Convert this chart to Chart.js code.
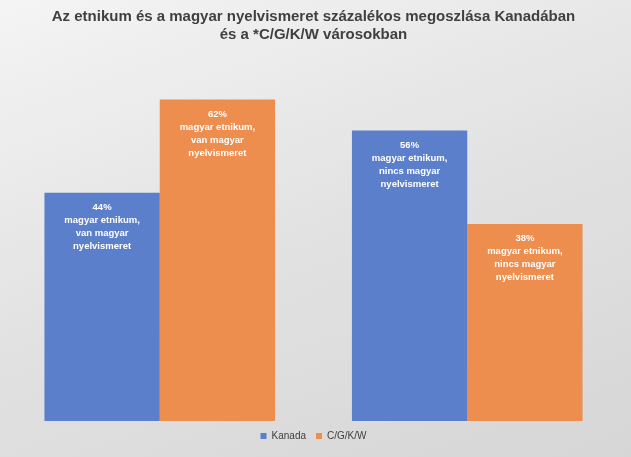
<!DOCTYPE html>
<html>
<head>
<meta charset="utf-8">
<script src="https://cdn.jsdelivr.net/npm/chart.js@4"></script>
<style>
  html, body { margin: 0; padding: 0; }
  body { width: 631px; height: 457px; background: linear-gradient(160deg, #f4f4f4 0%, #e2e2e2 50%, #d6d6d6 100%); }
  #wrap { width: 631px; height: 457px; }
</style>
</head>
<body>
<div id="wrap"><canvas id="bars"></canvas></div>
<script>
var categories = ['magyar etnikum, van magyar nyelvismeret', 'magyar etnikum, nincs magyar nyelvismeret'];
var kanada = [44, 56];
var cgkw = [62, 38];
var kanadaLabels = [['44%', 'magyar etnikum,', 'van magyar', 'nyelvismeret'], ['56%', 'magyar etnikum,', 'nincs magyar', 'nyelvismeret']];
var cgkwLabels = [['62%', 'magyar etnikum,', 'van magyar', 'nyelvismeret'], ['38%', 'magyar etnikum,', 'nincs magyar', 'nyelvismeret']];

var insideLabels = {
    id: 'insideLabels',
    afterDatasetsDraw: function (chart) {
        var ctx = chart.ctx;
        var all = [kanadaLabels, cgkwLabels];
        ctx.save();
        ctx.fillStyle = '#ffffff';
        ctx.font = 'bold 9.5px "Liberation Sans", Arial, sans-serif';
        ctx.textAlign = 'center';
        ctx.textBaseline = 'top';
        chart.data.datasets.forEach(function (ds, i) {
            chart.getDatasetMeta(i).data.forEach(function (bar, j) {
                all[i][j].forEach(function (line, k) {
                    ctx.fillText(line, bar.x, bar.y + 10 + k * 13);
                });
            });
        });
        ctx.restore();
    }
};

var ctx = document.getElementById('bars').getContext('2d');
var myChart = new Chart(ctx, {
    type: 'bar',
    data: {
        labels: categories,
        datasets: [{
            label: 'Kanada',
            data: kanada,
            backgroundColor: '#5b7fcb',
            categoryPercentage: 0.75,
            barPercentage: 1.0
        }, {
            label: 'C/G/K/W',
            data: cgkw,
            backgroundColor: '#ed8d4e',
            categoryPercentage: 0.75,
            barPercentage: 1.0
        }]
    },
    options: {
        responsive: true,
        maintainAspectRatio: false,
        animation: false,
        layout: { padding: { left: 6, right: 10, top: 0, bottom: 6 } },
        scales: {
            x: { display: false },
            y: { display: false, min: 0, max: 70 }
        },
        plugins: {
            title: {
                display: true,
                text: ['Az etnikum és a magyar nyelvismeret százalékos megoszlása Kanadában', 'és a *C/G/K/W városokban'],
                color: '#404040',
                font: { family: '"Liberation Sans", Arial, sans-serif', size: 15, weight: 'bold' },
                padding: { top: 8, bottom: 14 }
            },
            legend: {
                position: 'bottom',
                labels: {
                    boxWidth: 6, boxHeight: 6, color: '#404040',
                    font: { family: '"Liberation Sans", Arial, sans-serif', size: 10 }
                }
            },
            tooltip: { enabled: false }
        }
    },
    plugins: [insideLabels]
});
</script>
</body>
</html>
